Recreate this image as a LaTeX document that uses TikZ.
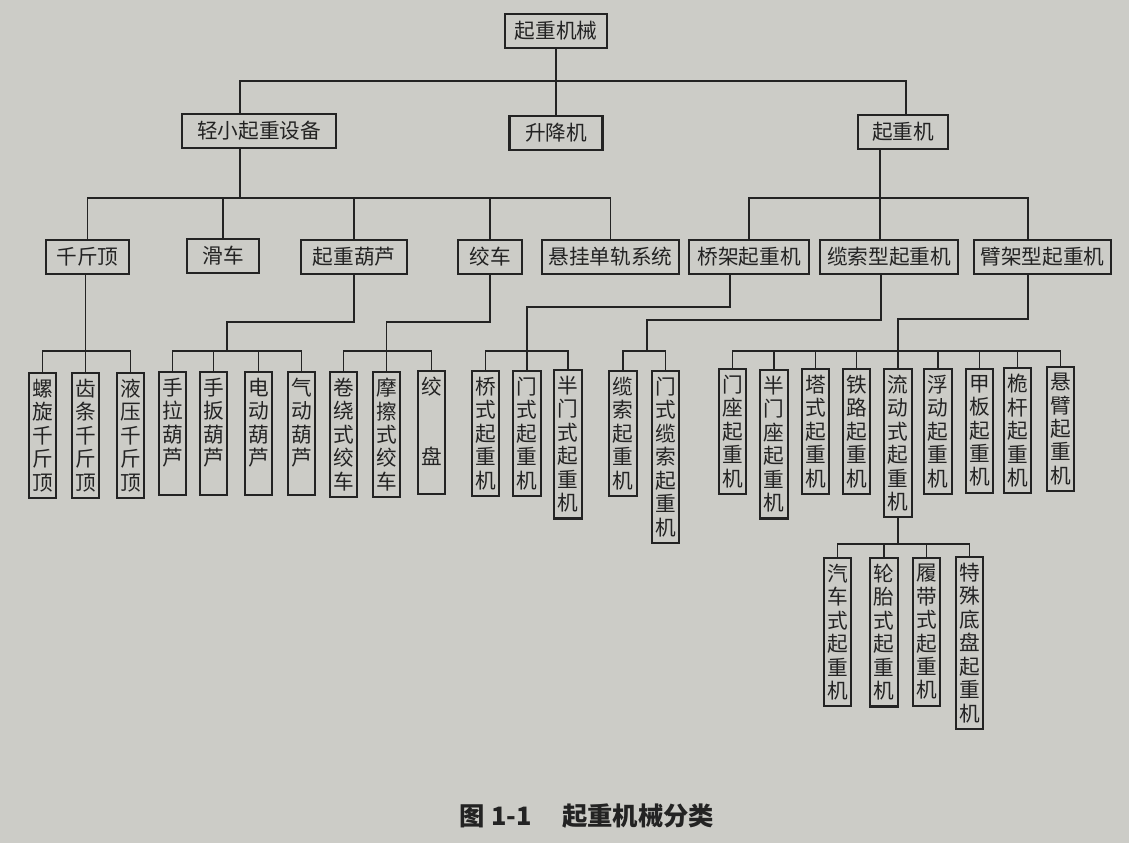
\documentclass[tikz,border=0pt]{standalone}
\usepackage{fontspec}
\newfontfamily\cjk{Noto Sans CJK SC}
\definecolor{paper}{RGB}{204,204,199}
\definecolor{ink}{RGB}{35,35,35}

\begin{document}
\begin{tikzpicture}[x=0.75pt,y=0.75pt,yscale=-1,xscale=1,
  box/.style={draw=ink,line width=1.6pt,fill=paper,text=ink,inner sep=0pt,minimum height=26pt,font={\cjk\fontsize{15.5}{17.6}\selectfont}},
  vbox/.style={box,align=center,anchor=north,minimum width=20.5pt,minimum height=0pt,inner xsep=1pt,inner ysep=4.5pt},
  link/.style={draw=ink,line width=1.1pt}]
\fill[paper] (0,0) rectangle (1129,843);
% top levels
\node[box,minimum width=76.5pt] (root) at (556,31) {起重机械};
\node[box,minimum width=115.5pt] (qx) at (259,131) {轻小起重设备};
\node[box,minimum width=69.75pt] (sj) at (556,133) {升降机};
\node[box,minimum width=67.5pt] (qz) at (903,132) {起重机};
\node[box,minimum width=62.25pt] (qjd) at (87.5,257) {千斤顶};
\node[box,minimum width=54pt] (hc) at (223,256) {滑车};
\node[box,minimum width=79.5pt] (hl) at (354,257) {起重葫芦};
\node[box,minimum width=48pt] (jc) at (490,257) {绞车};
\node[box,minimum width=102.75pt] (xg) at (610.5,257) {悬挂单轨系统};
\node[box,minimum width=90pt] (qjx) at (749,257) {桥架起重机};
\node[box,minimum width=103.5pt] (lsx) at (889,257) {缆索型起重机};
\node[box,minimum width=102.75pt] (bjx) at (1042.5,257) {臂架型起重机};
% vertical boxes
\node[vbox] (lx) at (42.5,372) {螺\\旋\\千\\斤\\顶};
\node[vbox] (ct) at (85.5,372) {齿\\条\\千\\斤\\顶};
\node[vbox] (yy) at (130.5,372) {液\\压\\千\\斤\\顶};
\node[vbox] (sl) at (172.5,371) {手\\拉\\葫\\芦\\~};
\node[vbox] (sb) at (213.5,371) {手\\扳\\葫\\芦\\~};
\node[vbox] (dd) at (258.5,371) {电\\动\\葫\\芦\\~};
\node[vbox] (qd) at (301.5,371) {气\\动\\葫\\芦\\~};
\node[vbox] (jr) at (343.5,371) {卷\\绕\\式\\绞\\车};
\node[vbox] (mc) at (386.5,371) {摩\\擦\\式\\绞\\车};
\node[vbox] (jp) at (431.5,370) {绞\\~\\~\\盘\\~};
\node[vbox] (qs) at (485.5,370) {桥\\式\\起\\重\\机};
\node[vbox] (ms) at (527,370) {门\\式\\起\\重\\机};
\node[vbox] (bm) at (568,369) {半\\门\\式\\起\\重\\机};
\node[vbox] (ls) at (623,370) {缆\\索\\起\\重\\机};
\node[vbox] (ml) at (665.5,370) {门\\式\\缆\\索\\起\\重\\机};
\node[vbox] (mz) at (732.5,368) {门\\座\\起\\重\\机};
\node[vbox] (bmz) at (774,369) {半\\门\\座\\起\\重\\机};
\node[vbox] (ts) at (815.5,368) {塔\\式\\起\\重\\机};
\node[vbox] (tl) at (856.5,368) {铁\\路\\起\\重\\机};
\node[vbox] (ld) at (898,368) {流\\动\\式\\起\\重\\机};
\node[vbox] (fd) at (938,368) {浮\\动\\起\\重\\机};
\node[vbox] (jb) at (979.5,368) {甲\\板\\起\\重\\机};
\node[vbox] (wg) at (1017.5,367) {桅\\杆\\起\\重\\机};
\node[vbox] (xb) at (1060.5,366) {悬\\臂\\起\\重\\机};
\node[vbox] (qc) at (837.5,557) {汽\\车\\式\\起\\重\\机};
\node[vbox] (lt) at (884,557) {轮\\胎\\式\\起\\重\\机};
\node[vbox] (ldai) at (926.5,557) {履\\带\\式\\起\\重\\机};
\node[vbox] (tsd) at (969.5,556) {特\\殊\\底\\盘\\起\\重\\机};
% caption
\node[font={\cjk\bfseries\fontsize{19}{22}\selectfont},text=ink] (cap) at (587,816) {图 1-1\hspace{1.2em}起重机械分类};
% junctions
\coordinate (t1) at (240,81);
\coordinate (t2) at (906,81);
\coordinate (m1) at (240,198);
\coordinate (m2) at (880,198);
\coordinate (m3) at (1028,198);
\coordinate (b3) at (0,351);
\coordinate (b4) at (0,544);
\coordinate (k1) at (227,322);
\coordinate (k2) at (0,322);
\coordinate (k3) at (730,307);
\coordinate (k4) at (881,320);
\coordinate (k5) at (647,320);
\coordinate (k6) at (1028,319);
% connectors
\draw[link] (root) -- (sj);
\draw[link] (qx.north -| t1) -- (t1) -- (t2) -- (qz.north -| t2);
\draw[link] (qx.south -| m1) -- (m1);
\draw[link] (qjd.north) |- (xg.north |- m1) -- (xg.north);
\foreach \n in {hc,hl,jc} \draw[link] (\n.north) -- (\n.north |- m1);
\draw[link] (qz.south -| m2) -- (lsx.north -| m2);
\draw[link] (qjx.north) |- (m3) -- (bjx.north -| m3);
\draw[link] (qjd.south -| ct.north) -- (ct.north);
\draw[link] (lx.north) |- (yy.north |- b3) -- (yy.north);
\draw[link] (hl.south) |- (k1) -- (k1 |- b3);
\draw[link] (sl.north) |- (qd.north |- b3) -- (qd.north);
\foreach \n in {sb,dd} \draw[link] (\n.north) -- (\n.north |- b3);
\draw[link] (jc.south) |- (mc.north |- k2) -- (mc.north);
\draw[link] (jr.north) |- (jp.north |- b3) -- (jp.north);
\draw[link] (qjx.south -| k3) -- (k3) -| (ms.north);
\draw[link] (qs.north) |- (bm.north |- b3) -- (bm.north);
\draw[link] (lsx.south -| k4) -- (k4) -- (k5) -- (k5 |- b3);
\draw[link] (ls.north) |- (ml.north |- b3) -- (ml.north);
\draw[link] (bjx.south -| k6) -- (k6) -| (ld.north);
\draw[link] (mz.north) |- (xb.north |- b3) -- (xb.north);
\foreach \n in {bmz,ts,tl,fd,jb,wg} \draw[link] (\n.north) -- (\n.north |- b3);
\draw[link] (ld.south) -- (ld.south |- b4);
\draw[link] (qc.north) |- (tsd.north |- b4) -- (tsd.north);
\foreach \n in {lt,ldai} \draw[link] (\n.north) -- (\n.north |- b4);
\end{tikzpicture}
\end{document}
